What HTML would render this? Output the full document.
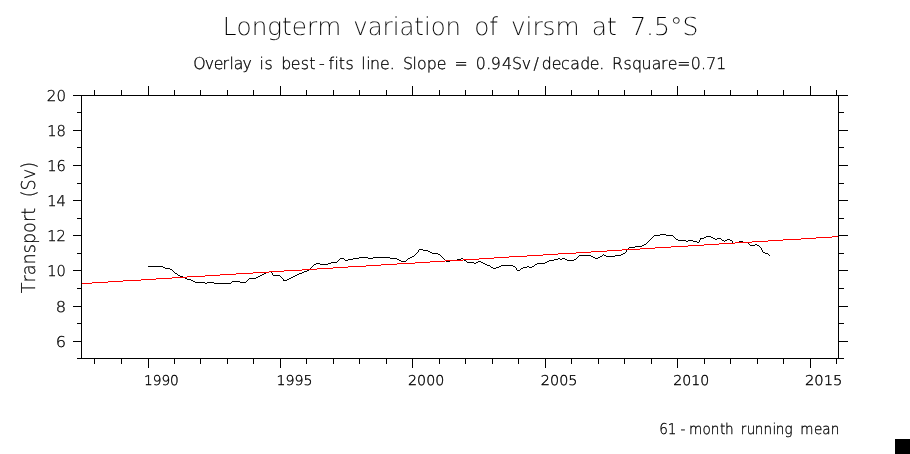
<!DOCTYPE html>
<html lang="en">
<head>
<meta charset="utf-8">
<style>
html,body{margin:0;padding:0;background:#fff;width:910px;height:454px;overflow:hidden}
svg{display:block;position:absolute;left:0;top:0}
text{font-family:'DejaVu Sans Light','DejaVu Sans ExtraLight','Liberation Sans',sans-serif;fill:#000;white-space:pre;font-variant-ligatures:none;font-kerning:none;text-rendering:geometricPrecision}
</style>
</head>
<body>
<svg width="910" height="454" viewBox="0 0 910 454" role="img">
<rect x="0" y="0" width="910" height="454" fill="#fff"/>
<g shape-rendering="crispEdges">
<path d="M81 95h1v264h-1zM838 95h1v264h-1zM81 95h758v1h-758zM81 358h758v1h-758zM73 95h8v1h-8zM839 95h9v1h-9zM77 112h4v1h-4zM839 112h5v1h-5zM73 130h8v1h-8zM839 130h9v1h-9zM77 147h4v1h-4zM839 147h5v1h-5zM73 165h8v1h-8zM839 165h9v1h-9zM77 183h4v1h-4zM839 183h5v1h-5zM73 200h8v1h-8zM839 200h9v1h-9zM77 218h4v1h-4zM839 218h5v1h-5zM73 235h8v1h-8zM839 235h9v1h-9zM77 253h4v1h-4zM839 253h5v1h-5zM73 270h8v1h-8zM839 270h9v1h-9zM77 288h4v1h-4zM839 288h5v1h-5zM73 306h8v1h-8zM839 306h9v1h-9zM77 323h4v1h-4zM839 323h5v1h-5zM73 341h8v1h-8zM839 341h9v1h-9zM77 358h4v1h-4zM839 358h5v1h-5zM94 90h1v5h-1zM94 359h1v5h-1zM121 90h1v5h-1zM121 359h1v5h-1zM148 86h1v9h-1zM148 359h1v9h-1zM174 90h1v5h-1zM174 359h1v5h-1zM200 90h1v5h-1zM200 359h1v5h-1zM227 90h1v5h-1zM227 359h1v5h-1zM253 90h1v5h-1zM253 359h1v5h-1zM280 86h1v9h-1zM280 359h1v9h-1zM306 90h1v5h-1zM306 359h1v5h-1zM333 90h1v5h-1zM333 359h1v5h-1zM359 90h1v5h-1zM359 359h1v5h-1zM386 90h1v5h-1zM386 359h1v5h-1zM412 86h1v9h-1zM412 359h1v9h-1zM439 90h1v5h-1zM439 359h1v5h-1zM465 90h1v5h-1zM465 359h1v5h-1zM492 90h1v5h-1zM492 359h1v5h-1zM518 90h1v5h-1zM518 359h1v5h-1zM545 86h1v9h-1zM545 359h1v9h-1zM571 90h1v5h-1zM571 359h1v5h-1zM598 90h1v5h-1zM598 359h1v5h-1zM624 90h1v5h-1zM624 359h1v5h-1zM651 90h1v5h-1zM651 359h1v5h-1zM677 86h1v9h-1zM677 359h1v9h-1zM704 90h1v5h-1zM704 359h1v5h-1zM730 90h1v5h-1zM730 359h1v5h-1zM757 90h1v5h-1zM757 359h1v5h-1zM783 90h1v5h-1zM783 359h1v5h-1zM810 86h1v9h-1zM810 359h1v9h-1zM836 90h1v5h-1zM836 359h1v5h-1zM895 439h15v15h-15z" fill="#000"/>
<path d="M660 234h6v1h-6zM654 235h6v1h-6zM666 235h7v1h-7zM653 236h1v1h-1zM673 236h1v1h-1zM706 236h5v1h-5zM652 237h1v1h-1zM674 237h1v1h-1zM704 237h2v1h-2zM711 237h2v1h-2zM651 238h1v1h-1zM675 238h1v1h-1zM700 238h4v1h-4zM713 238h2v1h-2zM717 238h4v1h-4zM650 239h1v1h-1zM676 239h2v1h-2zM700 239h1v1h-1zM715 239h2v1h-2zM721 239h1v1h-1zM727 239h3v1h-3zM649 240h1v1h-1zM678 240h8v1h-8zM688 240h5v1h-5zM699 240h1v1h-1zM722 240h2v1h-2zM725 240h2v1h-2zM730 240h2v1h-2zM648 241h1v1h-1zM686 241h2v1h-2zM693 241h4v1h-4zM699 241h1v1h-1zM724 241h1v1h-1zM732 241h1v1h-1zM739 241h4v1h-4zM647 242h1v1h-1zM697 242h2v1h-2zM732 242h1v1h-1zM735 242h4v1h-4zM743 242h5v1h-5zM646 243h1v1h-1zM733 243h2v1h-2zM748 243h1v1h-1zM644 244h2v1h-2zM749 244h1v1h-1zM755 244h2v1h-2zM642 245h2v1h-2zM750 245h5v1h-5zM757 245h2v1h-2zM635 246h7v1h-7zM759 246h1v1h-1zM629 247h6v1h-6zM760 247h1v1h-1zM628 248h1v1h-1zM761 248h1v1h-1zM419 249h4v1h-4zM627 249h1v1h-1zM761 249h1v1h-1zM418 250h1v1h-1zM423 250h5v1h-5zM626 250h1v1h-1zM762 250h1v1h-1zM418 251h1v1h-1zM428 251h2v1h-2zM626 251h1v1h-1zM762 251h1v1h-1zM417 252h1v1h-1zM430 252h2v1h-2zM625 252h1v1h-1zM763 252h2v1h-2zM416 253h1v1h-1zM432 253h6v1h-6zM623 253h2v1h-2zM765 253h3v1h-3zM415 254h1v1h-1zM438 254h2v1h-2zM603 254h1v1h-1zM621 254h2v1h-2zM768 254h1v1h-1zM414 255h1v1h-1zM440 255h1v1h-1zM579 255h12v1h-12zM602 255h1v1h-1zM604 255h2v1h-2zM615 255h6v1h-6zM769 255h1v1h-1zM412 256h2v1h-2zM441 256h1v1h-1zM578 256h1v1h-1zM591 256h2v1h-2zM600 256h2v1h-2zM606 256h9v1h-9zM359 257h9v1h-9zM373 257h17v1h-17zM410 257h2v1h-2zM442 257h1v1h-1zM577 257h1v1h-1zM593 257h2v1h-2zM598 257h2v1h-2zM340 258h4v1h-4zM353 258h6v1h-6zM368 258h5v1h-5zM390 258h7v1h-7zM408 258h2v1h-2zM443 258h1v1h-1zM461 258h2v1h-2zM558 258h2v1h-2zM562 258h3v1h-3zM576 258h1v1h-1zM595 258h3v1h-3zM339 259h1v1h-1zM344 259h1v1h-1zM348 259h5v1h-5zM397 259h2v1h-2zM407 259h1v1h-1zM444 259h1v1h-1zM457 259h4v1h-4zM463 259h1v1h-1zM554 259h4v1h-4zM560 259h2v1h-2zM565 259h2v1h-2zM574 259h2v1h-2zM338 260h1v1h-1zM345 260h3v1h-3zM399 260h2v1h-2zM406 260h1v1h-1zM445 260h1v1h-1zM450 260h7v1h-7zM464 260h2v1h-2zM549 260h5v1h-5zM567 260h7v1h-7zM337 261h1v1h-1zM401 261h5v1h-5zM446 261h4v1h-4zM466 261h1v1h-1zM478 261h3v1h-3zM547 261h2v1h-2zM331 262h6v1h-6zM467 262h7v1h-7zM476 262h2v1h-2zM481 262h2v1h-2zM545 262h2v1h-2zM316 263h4v1h-4zM328 263h3v1h-3zM474 263h2v1h-2zM483 263h2v1h-2zM537 263h8v1h-8zM314 264h2v1h-2zM320 264h8v1h-8zM485 264h2v1h-2zM535 264h2v1h-2zM313 265h1v1h-1zM487 265h3v1h-3zM501 265h12v1h-12zM534 265h1v1h-1zM148 266h15v1h-15zM312 266h1v1h-1zM490 266h1v1h-1zM499 266h2v1h-2zM513 266h2v1h-2zM527 266h2v1h-2zM532 266h2v1h-2zM163 267h2v1h-2zM311 267h1v1h-1zM491 267h2v1h-2zM496 267h3v1h-3zM515 267h1v1h-1zM523 267h4v1h-4zM529 267h3v1h-3zM165 268h5v1h-5zM310 268h1v1h-1zM493 268h3v1h-3zM516 268h1v1h-1zM521 268h2v1h-2zM170 269h2v1h-2zM309 269h1v1h-1zM516 269h1v1h-1zM520 269h1v1h-1zM172 270h1v1h-1zM307 270h2v1h-2zM517 270h3v1h-3zM173 271h1v1h-1zM269 271h2v1h-2zM304 271h3v1h-3zM174 272h1v1h-1zM266 272h3v1h-3zM271 272h1v1h-1zM302 272h2v1h-2zM175 273h2v1h-2zM264 273h2v1h-2zM272 273h1v1h-1zM299 273h3v1h-3zM177 274h1v1h-1zM262 274h2v1h-2zM272 274h1v1h-1zM297 274h2v1h-2zM178 275h2v1h-2zM260 275h2v1h-2zM273 275h7v1h-7zM295 275h2v1h-2zM180 276h3v1h-3zM258 276h2v1h-2zM280 276h1v1h-1zM293 276h2v1h-2zM183 277h2v1h-2zM256 277h2v1h-2zM281 277h1v1h-1zM291 277h2v1h-2zM185 278h2v1h-2zM249 278h7v1h-7zM282 278h1v1h-1zM289 278h2v1h-2zM187 279h4v1h-4zM248 279h1v1h-1zM283 279h1v1h-1zM287 279h2v1h-2zM191 280h2v1h-2zM247 280h1v1h-1zM283 280h4v1h-4zM193 281h2v1h-2zM232 281h8v1h-8zM246 281h1v1h-1zM195 282h10v1h-10zM207 282h7v1h-7zM231 282h1v1h-1zM240 282h6v1h-6zM205 283h2v1h-2zM214 283h17v1h-17z" fill="#000"/>
<path d="M832 236h6v1h-6zM816 237h16v1h-16zM801 238h15v1h-15zM783 239h18v1h-18zM768 240h15v1h-15zM752 241h16v1h-16zM735 242h17v1h-17zM719 243h16v1h-16zM704 244h15v1h-15zM688 245h16v1h-16zM671 246h17v1h-17zM655 247h16v1h-16zM640 248h15v1h-15zM622 249h18v1h-18zM607 250h15v1h-15zM591 251h16v1h-16zM576 252h15v1h-15zM558 253h18v1h-18zM543 254h15v1h-15zM527 255h16v1h-16zM509 256h18v1h-18zM494 257h15v1h-15zM479 258h15v1h-15zM463 259h16v1h-16zM445 260h18v1h-18zM430 261h15v1h-15zM415 262h15v1h-15zM397 263h18v1h-18zM381 264h16v1h-16zM366 265h15v1h-15zM348 266h18v1h-18zM333 267h15v1h-15zM317 268h16v1h-16zM302 269h15v1h-15zM284 270h18v1h-18zM269 271h15v1h-15zM253 272h16v1h-16zM236 273h17v1h-17zM220 274h16v1h-16zM205 275h15v1h-15zM187 276h18v1h-18zM172 277h15v1h-15zM156 278h16v1h-16zM141 279h15v1h-15zM123 280h18v1h-18zM108 281h15v1h-15zM92 282h16v1h-16zM82 283h10v1h-10z" fill="#f00"/>
</g>
<g>
<text y="35" font-size="24.742" stroke="#fff" stroke-width="0.08"><tspan x="222.84" textLength="118.35" lengthAdjust="spacingAndGlyphs">Longterm</tspan> <tspan x="353.24" textLength="107.84" lengthAdjust="spacingAndGlyphs">variation</tspan> <tspan x="474.15" textLength="23.79" lengthAdjust="spacingAndGlyphs">of</tspan> <tspan x="510.94" textLength="68.65" lengthAdjust="spacingAndGlyphs">virsm</tspan> <tspan x="591.8" textLength="25.06" lengthAdjust="spacingAndGlyphs">at</tspan> <tspan x="630.15" textLength="68.25" lengthAdjust="spacingAndGlyphs">7.5°S</tspan></text>
<text transform="scale(0.97 1)" y="69" font-size="16.289" stroke="#000" stroke-width="0.3"><tspan x="199.19 211.12 220.35 229.3 236.52 241.03 250.12">Overlay</tspan> <tspan x="267.45 272.71">is</tspan> <tspan x="289.86 299.63 310.13 318.87 328.97 338.61 344.77 349.13 356.11">best-fits</tspan> <tspan x="372.5 377.66 381.41 391.69 401.72">line.</tspan> <tspan x="415.43 425.18 429.79 439.91 450.25">Slope</tspan> <tspan x="468.55">=</tspan> <tspan x="490.55 501.36 506.04 517.64 527.85 537.82 549.93 558.58 568.8 578.43 587.84 598.17 607.88 617.8">0.94Sv/decade.</tspan> <tspan x="630.97 642.86 651.67 661.32 671.96 681.56 688.44 698.19 712.09 722.59 728.16 738.48">Rsquare=0.71</tspan></text>
<text y="101" font-size="14.914" stroke="#000" stroke-width="0.3"><tspan x="46.84" textLength="19.13" lengthAdjust="spacingAndGlyphs">20</tspan></text>
<text y="136" font-size="14.914" stroke="#000" stroke-width="0.3"><tspan x="47.25" textLength="18.7" lengthAdjust="spacingAndGlyphs">18</tspan></text>
<text y="171" font-size="14.914" stroke="#000" stroke-width="0.3"><tspan x="47.25" textLength="18.7" lengthAdjust="spacingAndGlyphs">16</tspan></text>
<text y="206" font-size="14.914" stroke="#000" stroke-width="0.3"><tspan x="47.25" textLength="18.7" lengthAdjust="spacingAndGlyphs">14</tspan></text>
<text y="241" font-size="14.914" stroke="#000" stroke-width="0.3"><tspan x="47.25" textLength="18.7" lengthAdjust="spacingAndGlyphs">12</tspan></text>
<text y="276" font-size="14.914" stroke="#000" stroke-width="0.3"><tspan x="47.25" textLength="18.7" lengthAdjust="spacingAndGlyphs">10</tspan></text>
<text y="312" font-size="14.914" stroke="#000" stroke-width="0.3"><tspan x="55.8" textLength="10.32" lengthAdjust="spacingAndGlyphs">8</tspan></text>
<text y="347" font-size="14.914" stroke="#000" stroke-width="0.3"><tspan x="55.8" textLength="10.32" lengthAdjust="spacingAndGlyphs">6</tspan></text>
<text transform="translate(35 0) rotate(-90)" y="0" font-size="19.072" stroke="#000" stroke-width="0.25"><tspan x="-293.2" textLength="85.25" lengthAdjust="spacingAndGlyphs">Transport</tspan> <tspan x="-197.36" textLength="35.37" lengthAdjust="spacingAndGlyphs">(Sv)</tspan></text>
<text y="385" font-size="13.491" stroke="#000" stroke-width="0.37"><tspan x="143.94" textLength="34.92" lengthAdjust="spacingAndGlyphs">1990</tspan></text>
<text y="385" font-size="13.491" stroke="#000" stroke-width="0.37"><tspan x="276.46" textLength="36.04" lengthAdjust="spacingAndGlyphs">1995</tspan></text>
<text y="385" font-size="13.491" stroke="#000" stroke-width="0.37"><tspan x="408.05" textLength="36.24" lengthAdjust="spacingAndGlyphs">2000</tspan></text>
<text y="385" font-size="13.491" stroke="#000" stroke-width="0.37"><tspan x="540.85" textLength="36.69" lengthAdjust="spacingAndGlyphs">2005</tspan></text>
<text y="385" font-size="13.491" stroke="#000" stroke-width="0.37"><tspan x="673.36" textLength="35.98" lengthAdjust="spacingAndGlyphs">2010</tspan></text>
<text y="385" font-size="13.491" stroke="#000" stroke-width="0.37"><tspan x="804.94" textLength="37.55" lengthAdjust="spacingAndGlyphs">2015</tspan></text>
<text transform="scale(0.91 1)" y="434" font-size="14.914" stroke="#000" stroke-width="0.3"><tspan x="724.36 733.88 747.8 757.08 772.09 781.18 791.18 796.73">61-month</tspan> <tspan x="813.93 820.59 829.37 839.1 848.82 852.5 862.21">running</tspan> <tspan x="879.39 894.39 903.7 913.05">mean</tspan></text>
</g>
</svg>
</body>
</html>
